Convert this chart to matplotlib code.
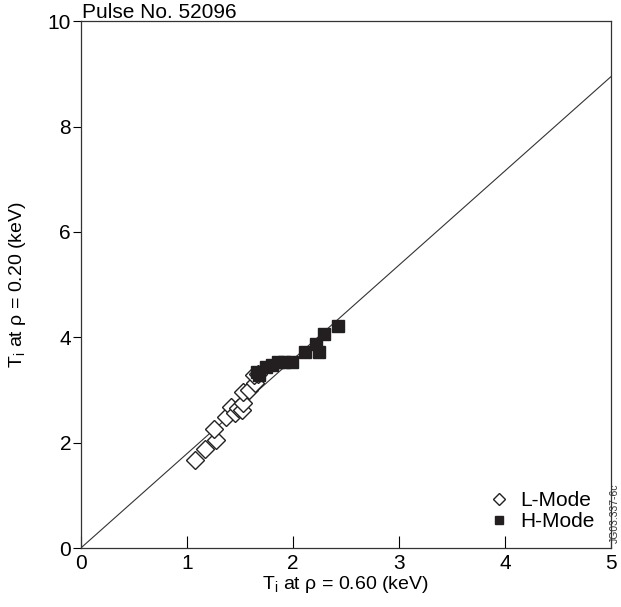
import numpy as np
import matplotlib
matplotlib.use('Agg')
from matplotlib import pyplot as plt

plt.rcParams['font.family'] = ['Liberation Sans', 'DejaVu Sans']

# L-mode points (open diamonds)
l_x = [1.08, 1.17, 1.28, 1.26, 1.37, 1.42, 1.45, 1.48, 1.52, 1.53, 1.53, 1.59, 1.64, 1.63, 1.67]
l_y = [1.67, 1.89, 2.05, 2.27, 2.49, 2.68, 2.56, 2.65, 2.62, 2.75, 2.97, 3.00, 3.13, 3.28, 3.31]

# H-mode points (filled squares)
h_x = [1.66, 1.68, 1.75, 1.80, 1.86, 1.92, 1.99, 2.11, 2.22, 2.25, 2.29, 2.43]
h_y = [3.35, 3.28, 3.44, 3.47, 3.54, 3.54, 3.54, 3.72, 3.88, 3.72, 4.07, 4.21]

line_x = [0, 5]
slope = 1.79

fig = plt.figure(figsize=(6.21, 6.07), dpi=100)
ax = fig.add_axes([0.130, 0.097, 0.854, 0.868])

ax.plot(line_x, [slope * v for v in line_x], color='#333333', lw=0.8, zorder=1)
ax.plot(l_x, l_y, linestyle='none', marker='D', markersize=9.5, mfc='white',
        mec='#222222', mew=1.0, label='L-Mode', zorder=2)
ax.plot(h_x, h_y, linestyle='none', marker='s', markersize=9, mfc='#231f20',
        mec='#231f20', label='H-Mode', zorder=3)

ax.set_xlim(0, 5)
ax.set_ylim(0, 10)
ax.set_xticks([0, 1, 2, 3, 4, 5])
ax.set_yticks([0, 2, 4, 6, 8, 10])
ax.tick_params(axis='x', direction='in', length=9, labelsize=15, pad=4)
ax.tick_params(axis='y', direction='out', length=6, labelsize=15, pad=1)
for s in ax.spines.values():
    s.set_linewidth(0.9)
    s.set_color('#333333')

ax.set_xlabel(r'T$_\mathregular{i}$ at ρ = 0.60 (keV)', fontsize=14, labelpad=1)
ax.set_ylabel(r'T$_\mathregular{i}$ at ρ = 0.20 (keV)', fontsize=14, labelpad=14)
ax.text(0.003, 0.998, 'Pulse No. 52096', transform=ax.transAxes, fontsize=15,
        ha='left', va='bottom')

ax.legend(loc='lower right', frameon=False, fontsize=15, handletextpad=0.4,
          borderaxespad=0.4, labelspacing=0.1, handlelength=1.2, markerscale=0.6)

fig.text(0.99, 0.155, 'JG03.337-6c', rotation=90, fontsize=7.5,
         ha='center', va='center', color='#333333')

fig.savefig('out.png', dpi=100)
